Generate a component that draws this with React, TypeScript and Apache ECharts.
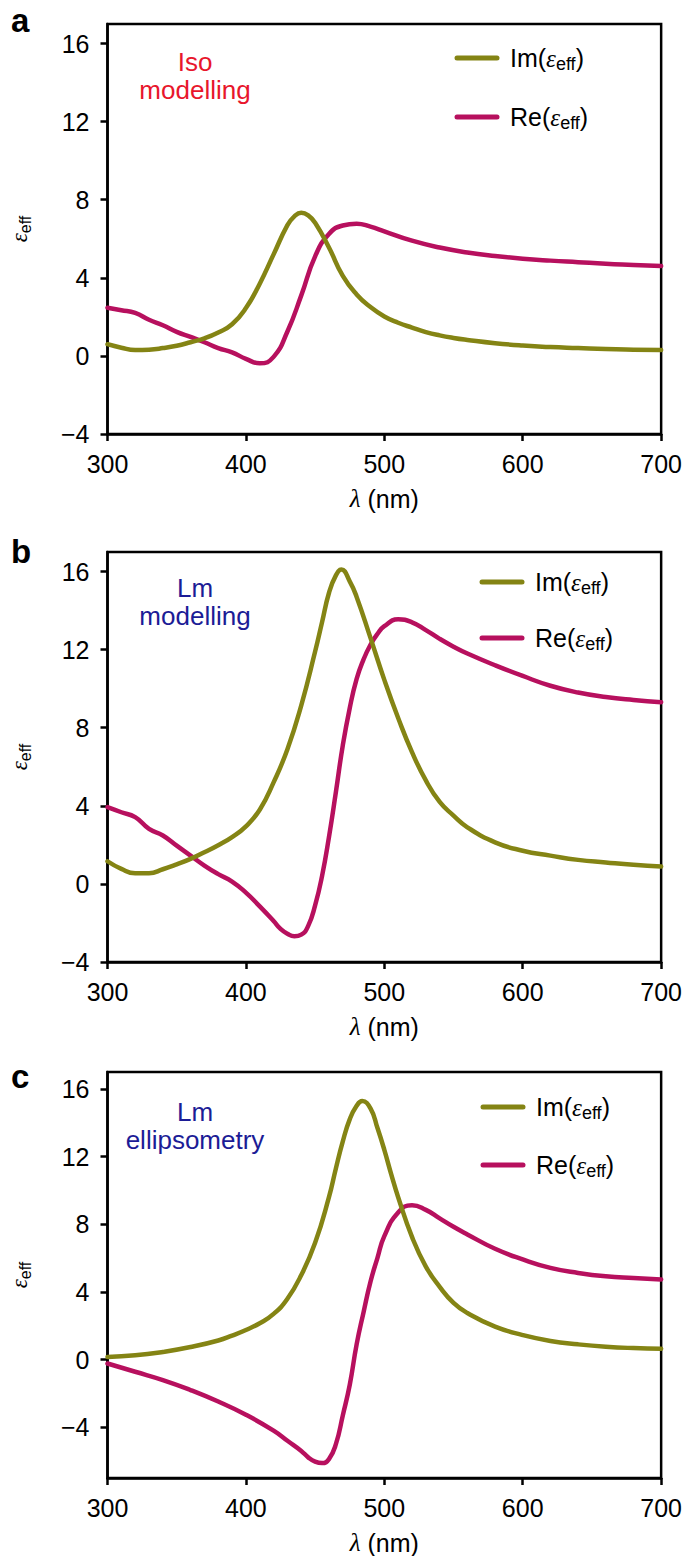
import React, { useEffect, useRef } from "react";
import * as echarts from "echarts";

// ---------- data ----------
const X_IM_A = [300, 310, 320, 330, 340, 350, 360, 370, 380, 390, 400, 410, 420, 430, 435, 440, 445, 450, 460, 470, 480, 490, 500, 510, 520, 530, 540, 550, 560, 580, 600, 620, 640, 660, 680, 700];
const Y_IM_A = [0.6, 0.42, 0.3, 0.32, 0.4, 0.52, 0.7, 0.9, 1.2, 1.62, 2.45, 3.7, 5.2, 6.7, 7.15, 7.33, 7.2, 6.82, 5.55, 4.1, 3.15, 2.5, 2.02, 1.7, 1.45, 1.22, 1.05, 0.92, 0.82, 0.65, 0.53, 0.45, 0.4, 0.35, 0.32, 0.3];
const X_RE_A = [300, 310, 320, 330, 340, 350, 360, 370, 380, 390, 400, 410, 420, 430, 440, 450, 460, 470, 480, 490, 500, 520, 540, 560, 580, 600, 620, 640, 660, 680, 700];
const Y_RE_A = [2.47, 2.34, 2.2, 1.85, 1.57, 1.23, 0.97, 0.7, 0.4, 0.18, -0.15, -0.38, -0.05, 1.25, 3.1, 5.1, 6.25, 6.68, 6.77, 6.62, 6.38, 5.9, 5.55, 5.3, 5.12, 4.98, 4.88, 4.8, 4.72, 4.66, 4.6];

const X_IM_B = [300, 310, 320, 330, 340, 350, 360, 370, 380, 390, 400, 410, 420, 430, 440, 450, 455, 460, 465, 469, 475, 480, 490, 500, 510, 520, 530, 540, 550, 560, 580, 600, 620, 640, 660, 680, 700];
const Y_IM_B = [1.16, 0.77, 0.55, 0.55, 0.75, 1.0, 1.28, 1.62, 1.98, 2.4, 2.95, 3.8, 5.2, 6.9, 9.15, 11.9, 13.4, 14.9, 15.8, 16.1, 15.5, 14.7, 12.6, 10.45, 8.5, 6.75, 5.3, 4.2, 3.5, 2.9, 2.13, 1.7, 1.45, 1.23, 1.1, 0.98, 0.89];
const X_RE_B = [300, 310, 320, 330, 340, 350, 360, 370, 380, 390, 400, 410, 420, 425, 430, 435, 440, 445, 450, 455, 460, 465, 470, 475, 480, 485, 490, 495, 500, 510, 520, 530, 540, 550, 560, 580, 600, 620, 640, 660, 680, 700];
const Y_RE_B = [3.93, 3.67, 3.42, 2.82, 2.48, 1.96, 1.45, 0.94, 0.5, 0.12, -0.45, -1.15, -1.9, -2.3, -2.55, -2.68, -2.6, -2.15, -1.1, 0.4, 2.4, 4.7, 7.1, 9.0, 10.5, 11.5, 12.25, 12.8, 13.2, 13.55, 13.4, 13.0, 12.55, 12.15, 11.8, 11.2, 10.65, 10.15, 9.8, 9.57, 9.42, 9.31];

const X_IM_C = [300, 320, 340, 360, 380, 390, 400, 410, 420, 430, 440, 450, 460, 465, 470, 475, 480, 484, 490, 495, 500, 505, 510, 520, 530, 540, 550, 560, 580, 600, 620, 640, 660, 680, 700];
const Y_IM_C = [0.16, 0.25, 0.45, 0.74, 1.13, 1.42, 1.75, 2.15, 2.7, 3.6, 5.0, 6.9, 9.6, 11.3, 12.9, 14.2, 15.0, 15.28, 14.85, 13.7, 12.4, 10.95, 9.6, 7.25, 5.5, 4.3, 3.35, 2.75, 1.95, 1.45, 1.1, 0.9, 0.76, 0.68, 0.64];
const X_RE_C = [300, 320, 340, 360, 380, 400, 420, 430, 440, 445, 450, 455, 460, 465, 470, 475, 480, 485, 490, 495, 500, 510, 520, 530, 540, 550, 560, 580, 600, 620, 640, 660, 680, 700];
const Y_RE_C = [-0.23, -0.72, -1.21, -1.8, -2.48, -3.26, -4.2, -4.8, -5.4, -5.78, -6.03, -6.12, -5.88, -5.0, -3.3, -1.5, 0.9, 2.8, 4.6, 6.0, 7.3, 8.7, 9.13, 8.85, 8.35, 7.85, 7.4, 6.55, 5.92, 5.42, 5.12, 4.92, 4.82, 4.74];

const X_TICKS = [300, 400, 500, 600, 700];
const Y_TICKS = [-4, 0, 4, 8, 12, 16];
const Y_MIN = [-4, -4, -7];
const Y_MAX = [17, 17, 17];
const PANEL_LETTERS = ["a", "b", "c"];
const ANNOTATIONS = [["Iso", "modelling"], ["Lm", "modelling"], ["Lm", "ellipsometry"]];
const SERIES_NAMES = ["Im", "Re"];

// ---------- style ----------
const IM_COLOR = "#848414";
const RE_COLOR = "#b7105e";
const ANN_COLORS = ["#e8162c", "#1c1c96", "#1c1c96"];
const SANS = "'Liberation Sans', Arial, Helvetica, sans-serif";
const SERIF = "'Liberation Serif', 'DejaVu Serif', serif";
const FS = 25;

const GRIDS = [
  { top: 24, height: 410 },
  { top: 552, height: 410 },
  { top: 1072, height: 408 },
];
const GRID_LEFT = 105;
const GRID_WIDTH = 557;

const LETTER_Y = [20, 551, 1076];
const ANN_Y = [76, 602, 1126];
const LEGEND_POS = [
  { x: 457, y1: 58, y2: 117 },
  { x: 482, y1: 582, y2: 638 },
  { x: 483, y1: 1107, y2: 1165 },
];

const pairs = (xs: number[], ys: number[]) => xs.map((x, i) => [x, ys[i]]);

const epsRich = (color: string, fs: number) => ({
  n: { fontFamily: SANS, fontSize: fs, color },
  e: { fontFamily: SERIF, fontStyle: "italic", fontSize: fs, color },
  s: { fontFamily: SANS, fontSize: Math.round(fs * 0.7), color, padding: [12, 0, 0, 0] },
});

const fmtY = (v: number) => (v < 0 ? "\u2212" + Math.abs(v) : String(v));

function buildOption() {
  const data = [
    [pairs(X_IM_A, Y_IM_A), pairs(X_RE_A, Y_RE_A)],
    [pairs(X_IM_B, Y_IM_B), pairs(X_RE_B, Y_RE_B)],
    [pairs(X_IM_C, Y_IM_C), pairs(X_RE_C, Y_RE_C)],
  ];

  const grid = GRIDS.map((g) => ({
    left: GRID_LEFT,
    top: g.top,
    width: GRID_WIDTH,
    height: g.height,
    show: true,
    borderColor: "#000",
    borderWidth: 2.5,
    backgroundColor: "transparent",
  }));

  const xAxis = GRIDS.map((_, i) => ({
    type: "value",
    gridIndex: i,
    min: X_TICKS[0],
    max: X_TICKS[X_TICKS.length - 1],
    interval: 100,
    axisLine: { show: true, onZero: false, lineStyle: { color: "#000", width: 2.5 } },
    axisTick: { show: true, inside: false, length: 7, lineStyle: { color: "#000", width: 2.5 } },
    axisLabel: { show: true, margin: 17, color: "#000", fontFamily: SANS, fontSize: FS },
    splitLine: { show: false },
    name: "{l|\u03bb} (nm)",
    nameLocation: "middle",
    nameGap: 52,
    nameTextStyle: {
      fontFamily: SANS,
      fontSize: FS,
      color: "#000",
      rich: { l: { fontFamily: SERIF, fontStyle: "italic", fontSize: FS, color: "#000" } },
    },
  }));

  const yAxis = GRIDS.map((_, i) => ({
    type: "value",
    gridIndex: i,
    min: Y_MIN[i],
    max: Y_MAX[i],
    axisLine: { show: true, onZero: false, lineStyle: { color: "#000", width: 2.5 } },
    axisTick: { show: true, inside: false, length: 7, customValues: Y_TICKS, lineStyle: { color: "#000", width: 2.5 } },
    axisLabel: { show: true, margin: 18, color: "#000", fontFamily: SANS, fontSize: FS, customValues: Y_TICKS, formatter: fmtY },
    splitLine: { show: false },
    name: "{e|\u03b5}{s|eff}",
    nameLocation: "middle",
    nameRotate: 90,
    nameGap: 74,
    nameTextStyle: { rich: epsRich("#000", 23) },
  }));

  const series: any[] = [];
  data.forEach((pair, i) => {
    pair.forEach((d, k) => {
      series.push({
        type: "line",
        name: SERIES_NAMES[k] + "_" + PANEL_LETTERS[i],
        xAxisIndex: i,
        yAxisIndex: i,
        data: d,
        showSymbol: false,
        smooth: 0.5,
        lineStyle: { color: k === 0 ? IM_COLOR : RE_COLOR, width: 4.5, cap: "round", join: "round" },
        itemStyle: { color: k === 0 ? IM_COLOR : RE_COLOR },
        z: k === 0 ? 3 : 2,
      });
    });
  });

  const graphic: any[] = [];
  GRIDS.forEach((_, i) => {
    graphic.push({
      type: "text",
      x: 11,
      y: LETTER_Y[i],
      style: {
        text: PANEL_LETTERS[i],
        fontFamily: SANS,
        fontWeight: "bold",
        fontSize: 33,
        fill: "#000",
        textAlign: "left",
        textVerticalAlign: "middle",
      },
    });
    graphic.push({
      type: "text",
      x: 195,
      y: ANN_Y[i],
      style: {
        text: ANNOTATIONS[i].join("\n"),
        fontFamily: SANS,
        fontSize: 26,
        lineHeight: 28,
        fill: ANN_COLORS[i],
        textAlign: "center",
        textVerticalAlign: "middle",
      },
    });
    const lp = LEGEND_POS[i];
    [lp.y1, lp.y2].forEach((ly, k) => {
      const c = k === 0 ? IM_COLOR : RE_COLOR;
      graphic.push({
        type: "line",
        shape: { x1: lp.x, y1: ly, x2: lp.x + 40, y2: ly },
        style: { stroke: c, lineWidth: 5, lineCap: "round" },
      });
      graphic.push({
        type: "text",
        x: lp.x + 53,
        y: ly,
        style: {
          text: "{n|" + SERIES_NAMES[k] + "(}{e|\u03b5}{s|eff}{n|)}",
          rich: epsRich(c, FS),
          textAlign: "left",
          textVerticalAlign: "middle",
        },
      });
    });
  });

  return {
    animation: false,
    backgroundColor: "#fff",
    grid,
    xAxis,
    yAxis,
    series,
    graphic,
  };
}

export default function App() {
  const ref = useRef<HTMLDivElement>(null);
  useEffect(() => {
    if (!ref.current) return;
    const chart = echarts.init(ref.current, null, { renderer: "svg" });
    chart.setOption(buildOption() as any);
    return () => chart.dispose();
  }, []);
  return (
    <div
      ref={ref}
      style={{ position: "absolute", left: 0, top: 0, width: 685, height: 1556, background: "#fff" }}
    />
  );
}
